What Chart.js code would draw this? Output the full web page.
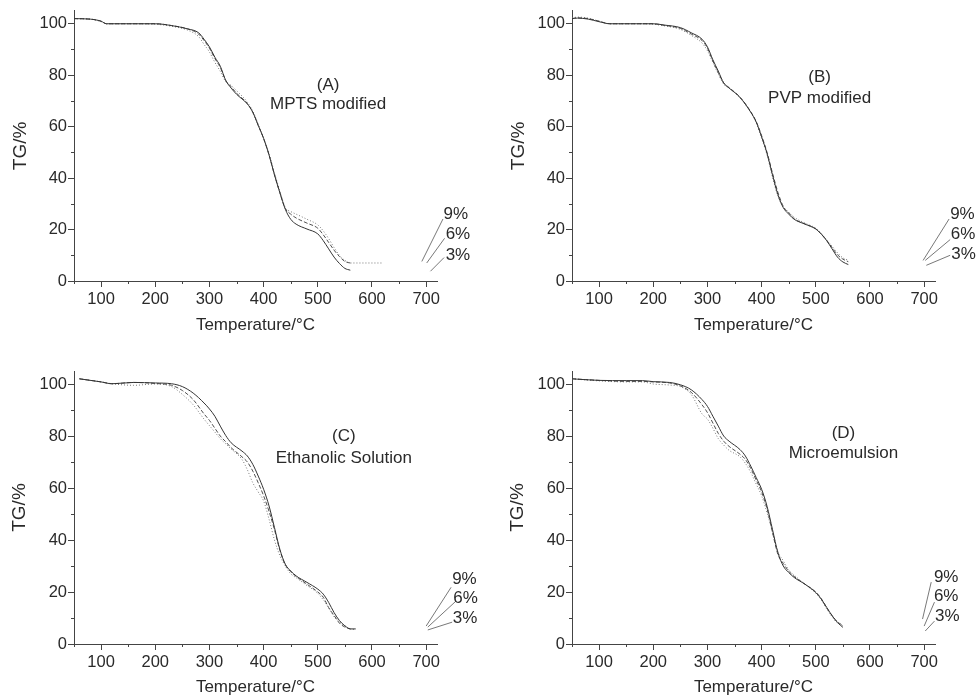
<!DOCTYPE html>
<html>
<head>
<meta charset="utf-8">
<title>TG curves</title>
<script src="https://cdn.jsdelivr.net/npm/chart.js@4.4.1/dist/chart.umd.min.js"></script>
<style>
  body { margin: 0; background: #fff; }
  #wrap { position: relative; width: 976px; height: 698px; }
  .panel { position: absolute; width: 488px; height: 349px; }
  .panel canvas { display: block; }
</style>
</head>
<body>
<div id="wrap">
  <div class="panel" style="left:0;top:0"><canvas id="chartA" width="488" height="349"></canvas></div>
  <div class="panel" style="left:488px;top:0"><canvas id="chartB" width="488" height="349"></canvas></div>
  <div class="panel" style="left:0;top:349px"><canvas id="chartC" width="488" height="349"></canvas></div>
  <div class="panel" style="left:488px;top:349px"><canvas id="chartD" width="488" height="349"></canvas></div>
</div>
<script>
// Datos (temperatura en °C, TG en %)
const loadings = ['3%', '6%', '9%'];

// (A) MPTS modified
const tempA = [50, 80, 100, 110, 150, 200, 230, 260, 280, 290, 300, 310, 320, 330, 340, 350, 370, 380, 390, 400, 410, 420, 430, 440, 450, 460, 480, 500, 510, 520, 530, 540, 550, 560, 580, 600, 620];
const tgA3 = [102, 101.8, 101, 100, 100, 100, 99.3, 98, 96.5, 94, 91, 87, 83.5, 78, 75, 72.6, 68.8, 65.6, 60.5, 55.4, 49, 41.3, 34.3, 27.9, 24, 22.1, 20.2, 18.3, 15.7, 12.5, 9.3, 6.8, 4.9, 4.2, null, null, null];
const tgA6 = [102, 101.8, 101, 100, 100, 100, 99.3, 98, 96, 93.5, 90.5, 86.5, 83, 78, 75.5, 73, 69, 65.6, 60.5, 55.4, 49, 41.3, 34.3, 28.2, 26, 24.5, 22.5, 20.5, 18, 15, 12, 9.5, 7.6, 7, null, null, null];
const tgA9 = [102, 101.8, 100.8, 100, 100, 99.8, 99, 97.5, 95, 92, 89, 85, 81.5, 77.5, 76, 74, 69.5, 66, 61, 55.5, 49.5, 42, 35, 28.5, 27, 26, 24, 21.8, 19.5, 16.5, 13, 10, 8, 7, 7, 7, 7];

// (B) PVP modified
const tempB = [50, 60, 80, 100, 120, 140, 180, 200, 220, 250, 270, 290, 300, 310, 320, 330, 340, 360, 380, 390, 400, 410, 420, 430, 440, 450, 460, 480, 500, 510, 520, 530, 540, 550, 560];
const tgB3 = [102, 102.2, 101.8, 100.8, 100, 100, 100, 100, 99.5, 98.5, 96.5, 94, 91, 86, 81.6, 77, 75, 71.4, 65.6, 61.8, 56, 49.6, 41.3, 33.6, 28.5, 26, 24, 22.1, 20.2, 18.3, 15.7, 12.5, 9.3, 7.4, 6.4];
const tgB6 = [102, 102.3, 102, 101, 100, 100, 100, 100, 99.4, 98.2, 96, 93.5, 90.5, 85.5, 81, 77, 75.2, 71.5, 65.8, 62, 56.5, 50, 42, 34.5, 29, 26.5, 24.2, 22.2, 20.3, 18.2, 15.8, 13, 10.2, 8.5, 7.5];
const tgB9 = [102.2, 102.6, 102.2, 101, 100, 100, 100, 99.8, 99.2, 97.8, 95.5, 92.5, 89.5, 85, 80.5, 76.5, 75, 71.2, 65.5, 61.5, 55.5, 49, 40.5, 33, 28.8, 26.8, 24.8, 22.5, 20.5, 18.5, 16, 13.5, 11, 9, 8.1];

// (C) Ethanolic Solution
const tempC = [60, 100, 120, 160, 200, 230, 250, 270, 290, 300, 310, 320, 330, 340, 360, 370, 380, 390, 400, 410, 420, 430, 440, 450, 460, 480, 500, 510, 520, 530, 540, 550, 560, 570];
const tgC3 = [102, 100.8, 100.1, 100.6, 100.4, 100.1, 99, 96.5, 92.7, 90.4, 87.6, 83.8, 80.2, 77.4, 74.2, 72.3, 69.1, 64.6, 59.5, 53.1, 44.8, 36.4, 30.7, 28.1, 26.2, 23.7, 21.1, 19.2, 16, 12.1, 9, 7, 5.8, 5.8];
const tgC6 = [102, 100.8, 100.1, 100.6, 100.2, 99.5, 97.5, 94, 88.5, 86, 83, 80, 77.8, 75.5, 72, 70, 66.5, 62, 57, 51, 44, 36, 30.5, 27.8, 26, 23, 20, 18, 14, 11, 8, 6.5, 5.8, null];
const tgC9 = [102, 100.8, 100.1, 99.5, 100, 99, 96, 92, 86.5, 84, 81.5, 79, 77, 75, 71, 67, 62, 58.5, 55, 48, 40, 34, 30, 27, 25.5, 22.5, 19.5, 17, 14, 10.5, 8.5, 7, 5.8, 5.6];

// (D) Microemulsion
const tempD = [50, 100, 150, 180, 200, 230, 250, 270, 290, 300, 310, 320, 330, 340, 360, 370, 380, 390, 400, 410, 420, 430, 440, 450, 460, 480, 500, 510, 520, 530, 540, 550];
const tgD3 = [102, 101.4, 101.3, 101.3, 100.9, 100.6, 99.7, 97.8, 94, 91.4, 87.6, 83.8, 80, 78, 74.8, 72.3, 68.4, 64, 59.5, 53, 44.1, 35.2, 30, 27.5, 25.6, 23, 19.8, 17.3, 14.1, 10.9, 8.3, 6.4];
const tgD6 = [102, 101.4, 101, 101, 100.8, 100.4, 99.3, 96.8, 92, 89, 85, 81, 78, 76, 73, 71, 67.5, 63, 58.5, 52, 43, 34.5, 31, 28, 26, 23, 20, 17.5, 14, 11, 8.5, 7.2];
const tgD9 = [102, 101.2, 100.8, 100.8, 100, 99.6, 99, 96, 88.5, 86.5, 83, 79, 76.5, 74.5, 72, 69.5, 66, 61.5, 57, 50.5, 43, 35.5, 32, 28.5, 26.5, 23, 19.5, 17, 13.5, 10.5, 8, 7];

const INK = '#2a2a2a';
const AXIS = '#444';
const FONT = "'Liberation Sans', Arial, sans-serif";

// estilo de cada serie: sólida, discontinua, punteada
const lineStyles = [
    { borderColor: '#333', borderDash: [] },
    { borderColor: '#505050', borderDash: [4, 2] },
    { borderColor: '#777', borderDash: [1, 2] }
];

// Dibuja ticks menores, títulos internos y las etiquetas 3/6/9 %
function notesPlugin(cfg) {
    return {
        id: 'tgNotes',
        afterDraw(chart) {
            const c = chart.ctx;
            const xs = chart.scales.x, ys = chart.scales.y;
            c.save();
            c.strokeStyle = AXIS;
            c.lineWidth = 1;
            c.beginPath();
            xs.ticks.forEach(t => {
                if (t.value % 100 !== 0) {
                    const px = Math.round(xs.getPixelForValue(t.value)) + 0.5;
                    c.moveTo(px, xs.top);
                    c.lineTo(px, xs.top + 3);
                }
            });
            ys.ticks.forEach(t => {
                if (t.value % 20 !== 0) {
                    const py = Math.round(ys.getPixelForValue(t.value)) + 0.5;
                    c.moveTo(ys.right, py);
                    c.lineTo(ys.right - 3, py);
                }
            });
            c.stroke();

            // líneas guía hacia las etiquetas
            c.strokeStyle = '#555';
            c.lineWidth = 0.8;
            c.beginPath();
            cfg.leaders.forEach(l => {
                c.moveTo(xs.getPixelForValue(l[0]), ys.getPixelForValue(l[1]));
                c.lineTo(xs.getPixelForValue(l[2]), ys.getPixelForValue(l[3]));
            });
            c.stroke();

            c.fillStyle = INK;
            c.font = '17px ' + FONT;
            c.textBaseline = 'middle';
            c.textAlign = 'left';
            cfg.pctAt.forEach((p, i) => {
                c.fillText(loadings[2 - i], xs.getPixelForValue(p[0]), ys.getPixelForValue(p[1]));
            });

            c.textAlign = 'center';
            cfg.caption.forEach((txt, i) => {
                c.fillText(txt, xs.getPixelForValue(cfg.captionAt[0]), ys.getPixelForValue(cfg.captionAt[1 + i]));
            });
            c.restore();
        }
    };
}

function makePanel(cfg) {
    const ctx = document.getElementById(cfg.id).getContext('2d');
    const series = [cfg.s3, cfg.s6, cfg.s9];
    return new Chart(ctx, {
        type: 'line',
        data: {
            datasets: series.map((s, i) => ({
                label: loadings[i],
                data: cfg.temps.map((t, j) => ({ x: t, y: s[j] })),
                borderColor: lineStyles[i].borderColor,
                borderDash: lineStyles[i].borderDash,
                borderWidth: 1,
                pointRadius: 0,
                cubicInterpolationMode: 'monotone',
                spanGaps: false,
                fill: false
            }))
        },
        options: {
            responsive: false,
            animation: false,
            layout: { padding: { left: 0, top: cfg.top, right: cfg.right, bottom: 0 } },
            plugins: {
                legend: { display: false },
                tooltip: { enabled: false }
            },
            scales: {
                x: {
                    type: 'linear',
                    min: 50,
                    max: 720,
                    afterFit: s => { s.height = cfg.xHeight; },
                    border: { color: AXIS, width: 1 },
                    grid: {
                        drawOnChartArea: false,
                        tickLength: 6,
                        tickColor: c => (c.tick && c.tick.value % 100 === 0) ? AXIS : 'rgba(0,0,0,0)'
                    },
                    ticks: {
                        stepSize: 50,
                        includeBounds: false,
                        autoSkip: false,
                        maxRotation: 0,
                        padding: 3,
                        color: INK,
                        font: { family: FONT, size: 16.5 },
                        callback: v => v % 100 === 0 ? v : ''
                    },
                    title: {
                        display: true,
                        text: 'Temperature/°C',
                        color: INK,
                        font: { family: FONT, size: 17 },
                        padding: { top: 4, bottom: cfg.xTitlePad }
                    }
                },
                y: {
                    min: 0,
                    max: 105,
                    afterFit: s => { s.width = cfg.yWidth; },
                    border: { color: AXIS, width: 1 },
                    grid: {
                        drawOnChartArea: false,
                        tickLength: 6,
                        tickColor: c => (c.tick && c.tick.value % 20 === 0) ? AXIS : 'rgba(0,0,0,0)'
                    },
                    ticks: {
                        stepSize: 10,
                        includeBounds: false,
                        autoSkip: false,
                        padding: 1,
                        color: INK,
                        font: { family: FONT, size: 16.5 },
                        callback: v => v % 20 === 0 ? v : ''
                    },
                    title: {
                        display: true,
                        text: 'TG/%',
                        color: INK,
                        font: { family: FONT, size: 19 },
                        padding: { top: cfg.yTitlePad, bottom: 4 }
                    }
                }
            }
        },
        plugins: [notesPlugin(cfg)]
    });
}

makePanel({
    id: 'chartA', temps: tempA, s3: tgA3, s6: tgA6, s9: tgA9,
    top: 7, right: 51, xHeight: 68, yWidth: 74, xTitlePad: 13.5, yTitlePad: 9,
    caption: ['(A)', 'MPTS modified'], captionAt: [519, 76.2, 68.6],
    leaders: [[731, 24.1, 692, 7.6], [734, 16.6, 701, 7.0], [733, 9.1, 708, 3.8]],
    pctAt: [[732, 26], [736, 18.3], [736, 9.8]]
});

makePanel({
    id: 'chartB', temps: tempB, s3: tgB3, s6: tgB6, s9: tgB9,
    top: 7, right: 41, xHeight: 68, yWidth: 84, xTitlePad: 13.5, yTitlePad: 19,
    caption: ['(B)', 'PVP modified'], captionAt: [507, 79, 71],
    leaders: [[746, 24.1, 698, 8.0], [748, 16.1, 702, 8.0], [748, 10, 704, 6.1]],
    pctAt: [[748, 26], [749, 18.2], [750, 10.2]]
});

makePanel({
    id: 'chartC', temps: tempC, s3: tgC3, s6: tgC6, s9: tgC9,
    top: 22, right: 51, xHeight: 54, yWidth: 74, xTitlePad: 0, yTitlePad: 8.5,
    caption: ['(C)', 'Ethanolic Solution'], captionAt: [548, 79.7, 71.6],
    leaders: [[746, 21.8, 700, 6.9], [755, 16.5, 703, 6.5], [748, 8.4, 703, 5.4]],
    pctAt: [[748, 24.9], [750, 17.6], [749, 10]]
});

makePanel({
    id: 'chartD', temps: tempD, s3: tgD3, s6: tgD6, s9: tgD9,
    top: 22, right: 41, xHeight: 54, yWidth: 84, xTitlePad: 0, yTitlePad: 18,
    caption: ['(D)', 'Microemulsion'], captionAt: [551, 81.2, 73.2],
    leaders: [[713, 23.8, 697, 9.6], [719, 16.1, 700, 6.9], [719, 8.8, 702, 5.0]],
    pctAt: [[718, 25.7], [718, 18.4], [720, 10.7]]
});
</script>
</body>
</html>
